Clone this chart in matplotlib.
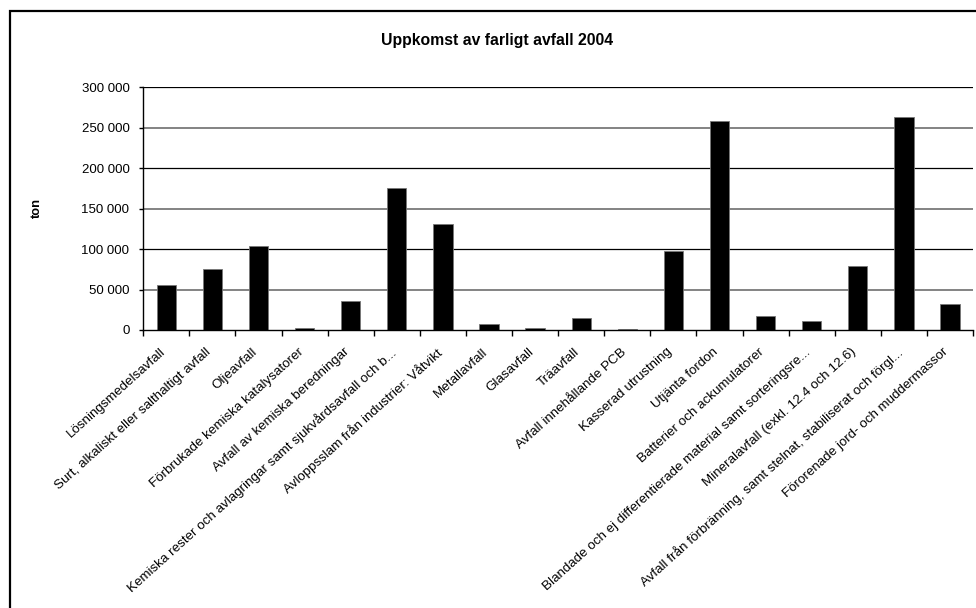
import matplotlib
matplotlib.use("Agg")
import matplotlib.pyplot as plt
from matplotlib.patches import Rectangle
from matplotlib.ticker import FuncFormatter
from matplotlib.transforms import ScaledTranslation
import numpy as np

plt.rcParams['font.family'] = ['Liberation Sans', 'DejaVu Sans']

title = "Uppkomst av farligt avfall 2004"
y_label = "ton"

categories = [
    "Lösningsmedelsavfall",
    "Surt, alkaliskt eller salthaltigt avfall",
    "Oljeavfall",
    "Förbrukade kemiska katalysatorer",
    "Avfall av kemiska beredningar",
    "Kemiska rester och avlagringar samt sjukvårdsavfall och b...",
    "Avloppsslam från industrier: Våtvikt",
    "Metallavfall",
    "Glasavfall",
    "Träavfall",
    "Avfall innehållande PCB",
    "Kasserad utrustning",
    "Utjänta fordon",
    "Batterier och ackumulatorer",
    "Blandade och ej differentierade material samt sorteringsre...",
    "Mineralavfall (exkl. 12.4 och 12.6)",
    "Avfall från förbränning, samt stelnat, stabiliserat och förgl...",
    "Förorenade jord- och muddermassor",
]

tonnes = [55500, 75000, 104000, 2000, 35500, 176000, 131500, 7000, 2500,
          14400, 1200, 98000, 258000, 17300, 11500, 79400, 263000, 31700]

y_ticks = [0, 50000, 100000, 150000, 200000, 250000, 300000]

W, H = 976, 608
DPI = 100
fig = plt.figure(figsize=(W / DPI, H / DPI), dpi=DPI)
fig.patch.set_facecolor("white")

# axes placed in pixel terms
left, right, top, bottom = 143.3, 973, 87.3, 330
ax = fig.add_axes([left / W, 1 - bottom / H, (right - left) / W, (bottom - top) / H])

x = np.arange(len(categories))
ax.bar(x, tonnes, width=0.42, color="black", edgecolor="#777777",
       linewidth=0.6, zorder=3)

ax.set_xlim(-0.5, len(categories) - 0.5)
ax.set_ylim(0, 300000)
ax.set_yticks(y_ticks)
ax.yaxis.set_major_formatter(FuncFormatter(lambda v, p: f"{int(v):,}".replace(",", " ")))

# horizontal gridlines
for i, v in enumerate(y_ticks[1:]):
    col = "black" if i % 2 == 1 else "#7a7a7a"
    lw = 0.9 if i % 2 == 1 else 1.3
    ax.axhline(v, color=col, linewidth=lw, zorder=1)

for s in ["top", "right"]:
    ax.spines[s].set_visible(False)
ax.spines["left"].set_linewidth(1.0)
ax.spines["bottom"].set_linewidth(1.0)
ax.spines["left"].set_zorder(4)
ax.spines["bottom"].set_zorder(4)

# x ticks sit on category boundaries; labels at category centres
ax.set_xticks(np.arange(-0.5, len(categories), 1.0))
ax.set_xticklabels([])
ax.tick_params(axis="x", direction="out", length=4, width=1.0)
ax.tick_params(axis="y", direction="out", length=3, width=1.0, labelsize=9.5, pad=7)

label_shift = ScaledTranslation(-7 / DPI, -16 / DPI, fig.dpi_scale_trans)
for xi, lab in zip(x, categories):
    ax.text(xi, 0, lab, transform=ax.get_xaxis_transform() + label_shift,
            rotation=42, rotation_mode="anchor", ha="right", va="top",
            fontsize=9.6)

fig.text(497 / W, 1 - 41 / H, title, ha="center", va="center",
         fontsize=11.3, fontweight="bold")
fig.text(37 / W, 1 - 208.5 / H, y_label, ha="center", va="center",
         rotation=90, fontsize=9.3, fontweight="bold")

# outer chart border (runs past the right and bottom edges)
fig.patches.append(Rectangle((9.5 / W, -0.02), 1.05, 1 - 10.5 / H + 0.02,
                             transform=fig.transFigure, fill=False,
                             edgecolor="black", linewidth=1.6))

fig.savefig("out.png", dpi=DPI)
